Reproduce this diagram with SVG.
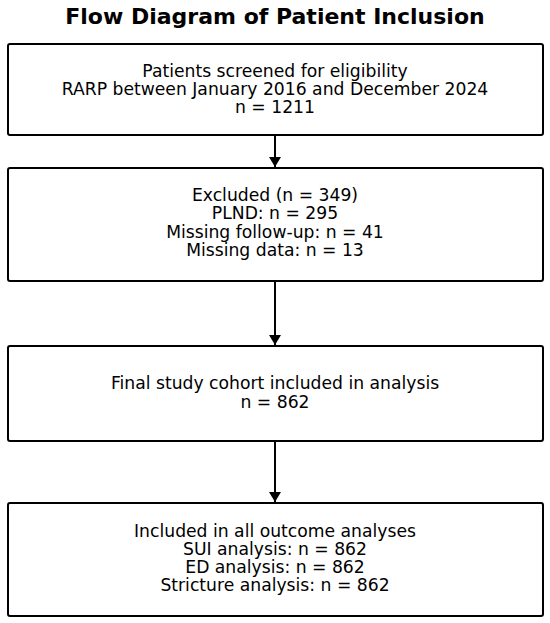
<svg xmlns="http://www.w3.org/2000/svg" width="550" height="623" viewBox="0 0 550 623">
<style>
.box{fill:#fff;stroke:#000;stroke-width:2}
.t{font-family:"DejaVu Sans",sans-serif;font-size:17.2px;text-anchor:middle;fill:#000}
.title{font-family:"DejaVu Sans",sans-serif;font-size:22px;font-weight:bold;text-anchor:middle;fill:#000}
.c{stroke:#000;stroke-width:2;fill:none}
</style>
<defs>
<marker id="ah" markerWidth="10" markerHeight="12" refX="10" refY="6" orient="auto" markerUnits="userSpaceOnUse" viewBox="0 0 10 12">
<path d="M0,0 L10,6 L0,12 z" fill="#000"/>
</marker>
</defs>
<rect width="550" height="623" fill="#fff"/>
<text class="title" x="275" y="24">Flow Diagram of Patient Inclusion</text>
<g id="connectors">
<line class="c" x1="275" y1="135" x2="275" y2="167" marker-end="url(#ah)"/>
<line class="c" x1="275" y1="281" x2="275" y2="345" marker-end="url(#ah)"/>
<line class="c" x1="275" y1="441" x2="275" y2="502" marker-end="url(#ah)"/>
</g>
<g id="n1">
<rect class="box" x="8" y="44" width="535" height="91" rx="2"/>
<text class="t" x="275" y="77">Patients screened for eligibility</text>
<text class="t" x="275" y="95">RARP between January 2016 and December 2024</text>
<text class="t" x="275" y="113">n = 1211</text>
</g>
<g id="n2">
<rect class="box" x="8" y="168" width="535" height="113" rx="2"/>
<text class="t" x="275" y="201">Excluded (n = 349)</text>
<text class="t" x="275" y="219">PLND: n = 295</text>
<text class="t" x="275" y="238">Missing follow-up: n = 41</text>
<text class="t" x="275" y="256">Missing data: n = 13</text>
</g>
<g id="n3">
<rect class="box" x="8" y="346" width="535" height="95" rx="2"/>
<text class="t" x="275" y="389">Final study cohort included in analysis</text>
<text class="t" x="275" y="408">n = 862</text>
</g>
<g id="n4">
<rect class="box" x="8" y="503" width="535" height="113" rx="2"/>
<text class="t" x="275" y="537">Included in all outcome analyses</text>
<text class="t" x="275" y="555">SUI analysis: n = 862</text>
<text class="t" x="275" y="573">ED analysis: n = 862</text>
<text class="t" x="275" y="591">Stricture analysis: n = 862</text>
</g>
</svg>
